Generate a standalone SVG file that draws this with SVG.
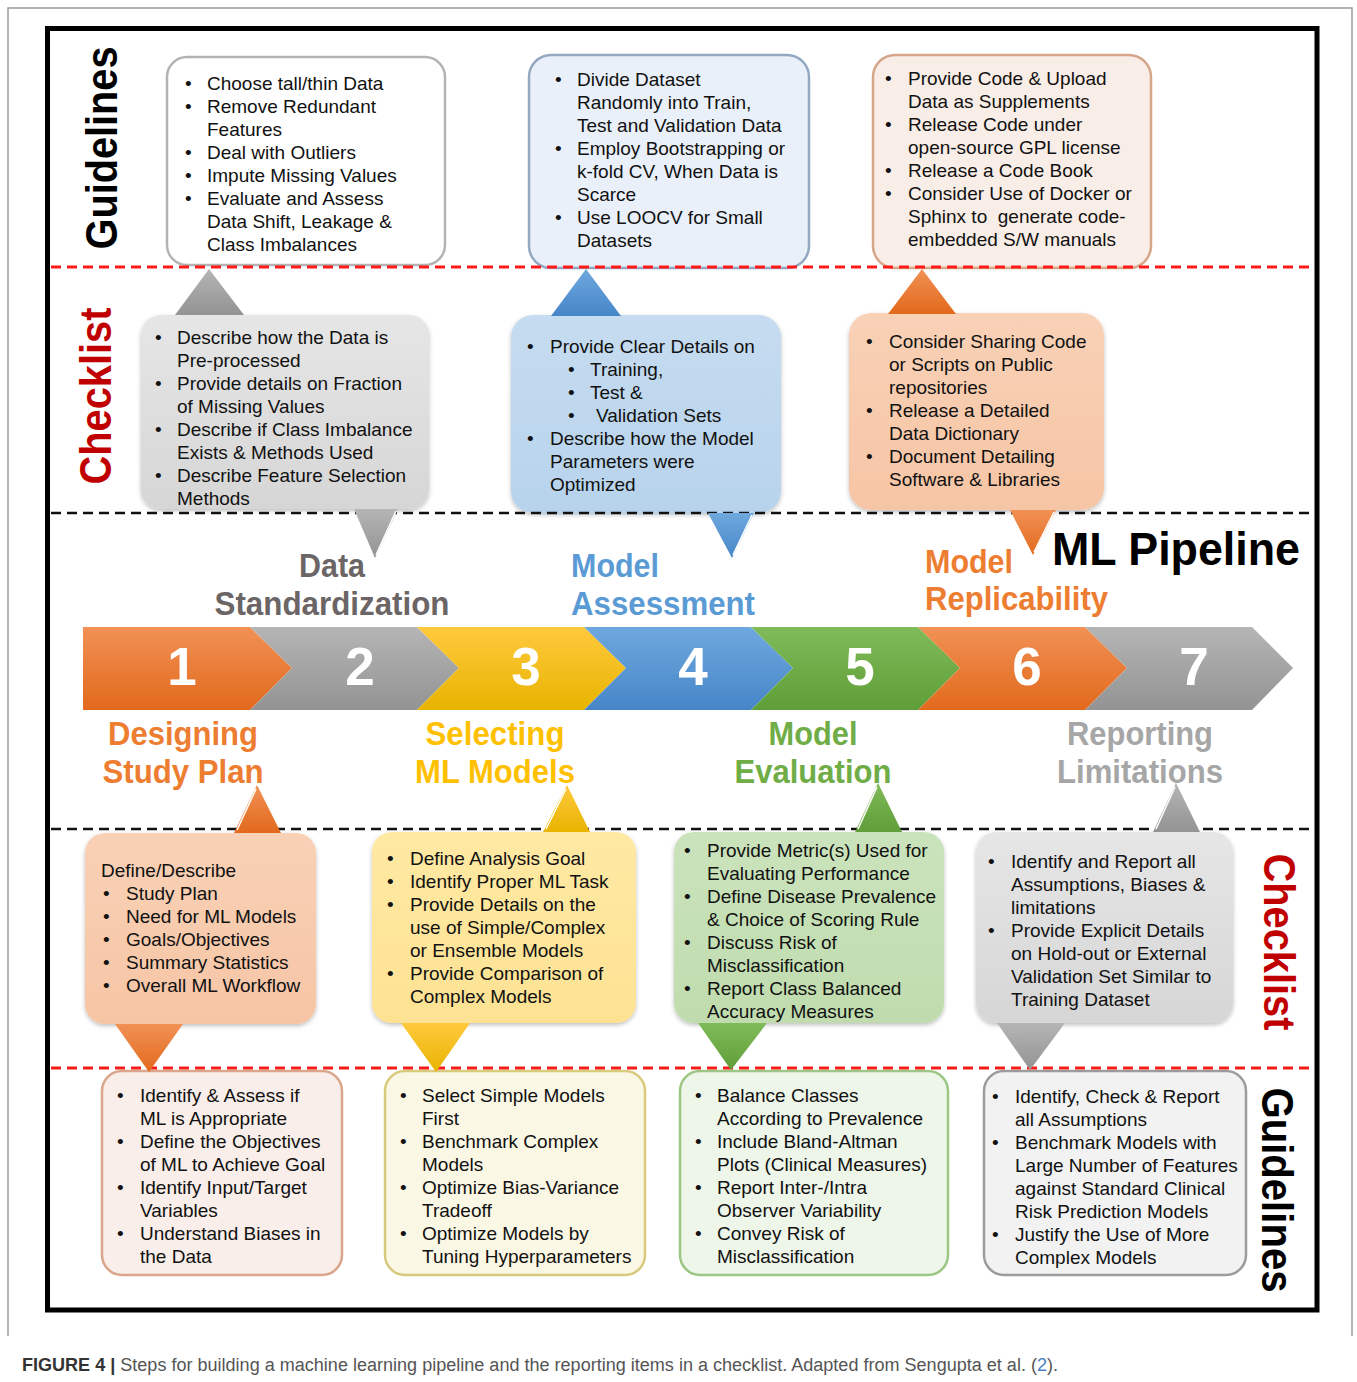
<svg xmlns="http://www.w3.org/2000/svg" width="1357" height="1382" viewBox="0 0 1357 1382">
<style>
.tx{font-family:"Liberation Sans",Arial,Helvetica,sans-serif;font-size:19px;fill:#111}
.lb{font-family:"Liberation Sans",Arial,Helvetica,sans-serif;font-weight:bold;font-size:33px}
.side{font-family:"Liberation Sans",Arial,Helvetica,sans-serif;font-weight:bold;font-size:44px}
.num{font-family:"Liberation Sans",Arial,Helvetica,sans-serif;font-weight:bold;font-size:53px;fill:#fff;text-anchor:middle}
.red{stroke:#ff1a1a;stroke-width:3;stroke-dasharray:10 6;fill:none}
.blk{stroke:#111;stroke-width:2.5;stroke-dasharray:10 6;fill:none}
.gl{stroke-width:2.5}
</style>
<defs>
<linearGradient id="gOr" x1="0" y1="0" x2="0" y2="1"><stop offset="0" stop-color="#f19155"/><stop offset="1" stop-color="#e2691c"/></linearGradient>
<linearGradient id="gGy" x1="0" y1="0" x2="0" y2="1"><stop offset="0" stop-color="#b5b5b5"/><stop offset="1" stop-color="#939393"/></linearGradient>
<linearGradient id="gYe" x1="0" y1="0" x2="0" y2="1"><stop offset="0" stop-color="#ffc93d"/><stop offset="1" stop-color="#e8b400"/></linearGradient>
<linearGradient id="gBl" x1="0" y1="0" x2="0" y2="1"><stop offset="0" stop-color="#6fa8de"/><stop offset="1" stop-color="#4686c8"/></linearGradient>
<linearGradient id="gGr" x1="0" y1="0" x2="0" y2="1"><stop offset="0" stop-color="#80bb59"/><stop offset="1" stop-color="#5f9e38"/></linearGradient>
<linearGradient id="bGy" x1="0" y1="0" x2="0" y2="1"><stop offset="0" stop-color="#e6e6e6"/><stop offset="1" stop-color="#d6d6d6"/></linearGradient>
<linearGradient id="bBl" x1="0" y1="0" x2="0" y2="1"><stop offset="0" stop-color="#c6dcf0"/><stop offset="1" stop-color="#b7d3ec"/></linearGradient>
<linearGradient id="bOr" x1="0" y1="0" x2="0" y2="1"><stop offset="0" stop-color="#f9d1b6"/><stop offset="1" stop-color="#f6c5a5"/></linearGradient>
<linearGradient id="bYe" x1="0" y1="0" x2="0" y2="1"><stop offset="0" stop-color="#ffe9a3"/><stop offset="1" stop-color="#fde293"/></linearGradient>
<linearGradient id="bGr" x1="0" y1="0" x2="0" y2="1"><stop offset="0" stop-color="#cbe3bc"/><stop offset="1" stop-color="#c0dcae"/></linearGradient>
<filter id="sh" x="-10%" y="-10%" width="120%" height="125%"><feDropShadow dx="0" dy="2" stdDeviation="2" flood-color="#000" flood-opacity="0.25"/></filter>
</defs>
<rect width="1357" height="1382" fill="#fff"/>
<path d="M8,1336 V8 H1352 V1336" fill="none" stroke="#9a9a9a" stroke-width="1.5"/>
<rect x="47.5" y="28.5" width="1269.5" height="1281.5" fill="#fff" stroke="#000" stroke-width="5"/>

<g id="side-labels">
<text class="side" fill="#000" text-anchor="middle" textLength="203" lengthAdjust="spacingAndGlyphs" transform="translate(117,148) rotate(-90)">Guidelines</text>
<text class="side" fill="#c00000" text-anchor="middle" textLength="177" lengthAdjust="spacingAndGlyphs" transform="translate(111,396) rotate(-90)">Checklist</text>
<text class="side" fill="#c00000" text-anchor="middle" textLength="177" lengthAdjust="spacingAndGlyphs" transform="translate(1264,942) rotate(90)">Checklist</text>
<text class="side" fill="#000" text-anchor="middle" textLength="205" lengthAdjust="spacingAndGlyphs" transform="translate(1262,1190) rotate(90)">Guidelines</text>
</g>

<g id="guide-data">
<rect x="167" y="57" width="278" height="208" rx="20" fill="#fff" stroke="#b3b3b3" class="gl"/>
<text class="tx"><tspan x="185" y="90">•</tspan><tspan x="207" y="90">Choose tall/thin Data</tspan><tspan x="185" y="113">•</tspan><tspan x="207" y="113">Remove Redundant</tspan><tspan x="207" y="136">Features</tspan><tspan x="185" y="159">•</tspan><tspan x="207" y="159">Deal with Outliers</tspan><tspan x="185" y="182">•</tspan><tspan x="207" y="182">Impute Missing Values</tspan><tspan x="185" y="205">•</tspan><tspan x="207" y="205">Evaluate and Assess</tspan><tspan x="207" y="228">Data Shift, Leakage &amp;</tspan><tspan x="207" y="251">Class Imbalances</tspan></text>
</g>

<g id="guide-assess">
<rect x="529" y="55" width="280" height="213" rx="22" fill="#eaf0f9" stroke="#93a9c2" class="gl"/>
<text class="tx"><tspan x="555" y="86">•</tspan><tspan x="577" y="86">Divide Dataset</tspan><tspan x="577" y="109">Randomly into Train,</tspan><tspan x="577" y="132">Test and Validation Data</tspan><tspan x="555" y="155">•</tspan><tspan x="577" y="155">Employ Bootstrapping or</tspan><tspan x="577" y="178">k-fold CV, When Data is</tspan><tspan x="577" y="201">Scarce</tspan><tspan x="555" y="224">•</tspan><tspan x="577" y="224">Use LOOCV for Small</tspan><tspan x="577" y="247">Datasets</tspan></text>
</g>

<g id="guide-replic">
<rect x="873" y="55" width="278" height="213" rx="22" fill="#f9ede7" stroke="#d6a68a" class="gl"/>
<text class="tx"><tspan x="885" y="85">•</tspan><tspan x="908" y="85">Provide Code &amp; Upload</tspan><tspan x="908" y="108">Data as Supplements</tspan><tspan x="885" y="131">•</tspan><tspan x="908" y="131">Release Code under</tspan><tspan x="908" y="154">open-source GPL license</tspan><tspan x="885" y="177">•</tspan><tspan x="908" y="177">Release a Code Book</tspan><tspan x="885" y="200">•</tspan><tspan x="908" y="200">Consider Use of Docker or</tspan><tspan x="908" y="223">Sphinx to &#160;generate code-</tspan><tspan x="908" y="246">embedded S/W manuals</tspan></text>
</g>

<g id="check-data">
<rect x="141" y="315" width="288" height="194" rx="20" fill="url(#bGy)" filter="url(#sh)"/>
<text class="tx"><tspan x="155" y="344">•</tspan><tspan x="177" y="344">Describe how the Data is</tspan><tspan x="177" y="367">Pre-processed</tspan><tspan x="155" y="390">•</tspan><tspan x="177" y="390">Provide details on Fraction</tspan><tspan x="177" y="413">of Missing Values</tspan><tspan x="155" y="436">•</tspan><tspan x="177" y="436">Describe if Class Imbalance</tspan><tspan x="177" y="459">Exists &amp; Methods Used</tspan><tspan x="155" y="482">•</tspan><tspan x="177" y="482">Describe Feature Selection</tspan><tspan x="177" y="505">Methods</tspan></text>
</g>

<g id="check-assess">
<rect x="511" y="315" width="270" height="198" rx="22" fill="url(#bBl)" filter="url(#sh)"/>
<text class="tx"><tspan x="527" y="353">•</tspan><tspan x="550" y="353">Provide Clear Details on</tspan><tspan x="568" y="376">•</tspan><tspan x="590" y="376">Training,</tspan><tspan x="568" y="399">•</tspan><tspan x="590" y="399">Test &amp;</tspan><tspan x="568" y="422">•</tspan><tspan x="596" y="422">Validation Sets</tspan><tspan x="527" y="445">•</tspan><tspan x="550" y="445">Describe how the Model</tspan><tspan x="550" y="468">Parameters were</tspan><tspan x="550" y="491">Optimized</tspan></text>
</g>

<g id="check-replic">
<rect x="849" y="313" width="255" height="197" rx="22" fill="url(#bOr)" filter="url(#sh)"/>
<text class="tx"><tspan x="866" y="348">•</tspan><tspan x="889" y="348">Consider Sharing Code</tspan><tspan x="889" y="371">or Scripts on Public</tspan><tspan x="889" y="394">repositories</tspan><tspan x="866" y="417">•</tspan><tspan x="889" y="417">Release a Detailed</tspan><tspan x="889" y="440">Data Dictionary</tspan><tspan x="866" y="463">•</tspan><tspan x="889" y="463">Document Detailing</tspan><tspan x="889" y="486">Software &amp; Libraries</tspan></text>
</g>

<g id="pipeline">
<g id="step1"><path d="M83,627 H250 L292,668 L250,710 H83 Z" fill="url(#gOr)"/><text class="num" x="182" y="685">1</text></g>
<g id="step2"><path d="M250,627 H417 L459,668 L417,710 H250 L292,668 Z" fill="url(#gGy)"/><text class="num" x="360" y="685">2</text></g>
<g id="step3"><path d="M417,627 H584 L626,668 L584,710 H417 L459,668 Z" fill="url(#gYe)"/><text class="num" x="526" y="685">3</text></g>
<g id="step4"><path d="M584,627 H751 L793,668 L751,710 H584 L626,668 Z" fill="url(#gBl)"/><text class="num" x="693" y="685">4</text></g>
<g id="step5"><path d="M751,627 H918 L960,668 L918,710 H751 L793,668 Z" fill="url(#gGr)"/><text class="num" x="860" y="685">5</text></g>
<g id="step6"><path d="M918,627 H1085 L1127,668 L1085,710 H918 L960,668 Z" fill="url(#gOr)"/><text class="num" x="1027" y="685">6</text></g>
<g id="step7"><path d="M1085,627 H1252 L1293,668 L1252,710 H1085 L1127,668 Z" fill="url(#gGy)"/><text class="num" x="1194" y="685">7</text></g>
</g>

<g id="stage-labels">
<text class="lb" fill="#6b6565" text-anchor="middle"><tspan x="332" y="577" textLength="66" lengthAdjust="spacingAndGlyphs">Data</tspan></text>
<text class="lb" fill="#6b6565" text-anchor="middle"><tspan x="332" y="615" textLength="235" lengthAdjust="spacingAndGlyphs">Standardization</tspan></text>
<text class="lb" fill="#5b9bd5"><tspan x="571" y="577" textLength="88" lengthAdjust="spacingAndGlyphs">Model</tspan></text>
<text class="lb" fill="#5b9bd5"><tspan x="571" y="615" textLength="184" lengthAdjust="spacingAndGlyphs">Assessment</tspan></text>
<text class="lb" fill="#ed7d31"><tspan x="925" y="573" textLength="88" lengthAdjust="spacingAndGlyphs">Model</tspan></text>
<text class="lb" fill="#ed7d31"><tspan x="925" y="610" textLength="183" lengthAdjust="spacingAndGlyphs">Replicability</tspan></text>
<text class="lb" fill="#000" style="font-size:47px"><tspan x="1052" y="565" textLength="248" lengthAdjust="spacingAndGlyphs">ML Pipeline</tspan></text>
<text class="lb" fill="#ed7d31" text-anchor="middle"><tspan x="183" y="745" textLength="150" lengthAdjust="spacingAndGlyphs">Designing</tspan></text>
<text class="lb" fill="#ed7d31" text-anchor="middle"><tspan x="183" y="783" textLength="161" lengthAdjust="spacingAndGlyphs">Study Plan</tspan></text>
<text class="lb" fill="#ffc000" text-anchor="middle"><tspan x="495" y="745" textLength="139" lengthAdjust="spacingAndGlyphs">Selecting</tspan></text>
<text class="lb" fill="#ffc000" text-anchor="middle"><tspan x="495" y="783" textLength="160" lengthAdjust="spacingAndGlyphs">ML Models</tspan></text>
<text class="lb" fill="#70ad47" text-anchor="middle"><tspan x="813" y="745" textLength="89" lengthAdjust="spacingAndGlyphs">Model</tspan></text>
<text class="lb" fill="#70ad47" text-anchor="middle"><tspan x="813" y="783" textLength="157" lengthAdjust="spacingAndGlyphs">Evaluation</tspan></text>
<text class="lb" fill="#a6a6a6" text-anchor="middle"><tspan x="1140" y="745" textLength="146" lengthAdjust="spacingAndGlyphs">Reporting</tspan></text>
<text class="lb" fill="#a6a6a6" text-anchor="middle"><tspan x="1140" y="783" textLength="166" lengthAdjust="spacingAndGlyphs">Limitations</tspan></text>
</g>

<g id="check-design">
<rect x="85" y="833" width="231" height="191" rx="20" fill="url(#bOr)" filter="url(#sh)"/>
<text class="tx"><tspan x="101" y="877">Define/Describe</tspan><tspan x="103" y="900">•</tspan><tspan x="126" y="900">Study Plan</tspan><tspan x="103" y="923">•</tspan><tspan x="126" y="923">Need for ML Models</tspan><tspan x="103" y="946">•</tspan><tspan x="126" y="946">Goals/Objectives</tspan><tspan x="103" y="969">•</tspan><tspan x="126" y="969">Summary Statistics</tspan><tspan x="103" y="992">•</tspan><tspan x="126" y="992">Overall ML Workflow</tspan></text>
</g>

<g id="check-select">
<rect x="372" y="832" width="264" height="191" rx="20" fill="url(#bYe)" filter="url(#sh)"/>
<text class="tx"><tspan x="387" y="865">•</tspan><tspan x="410" y="865">Define Analysis Goal</tspan><tspan x="387" y="888">•</tspan><tspan x="410" y="888">Identify Proper ML Task</tspan><tspan x="387" y="911">•</tspan><tspan x="410" y="911">Provide Details on the</tspan><tspan x="410" y="934">use of Simple/Complex</tspan><tspan x="410" y="957">or Ensemble Models</tspan><tspan x="387" y="980">•</tspan><tspan x="410" y="980">Provide Comparison of</tspan><tspan x="410" y="1003">Complex Models</tspan></text>
</g>

<g id="check-eval">
<rect x="674" y="832" width="270" height="191" rx="20" fill="url(#bGr)" filter="url(#sh)"/>
<text class="tx"><tspan x="684" y="857">•</tspan><tspan x="707" y="857">Provide Metric(s) Used for</tspan><tspan x="707" y="880">Evaluating Performance</tspan><tspan x="684" y="903">•</tspan><tspan x="707" y="903">Define Disease Prevalence</tspan><tspan x="707" y="926">&amp; Choice of Scoring Rule</tspan><tspan x="684" y="949">•</tspan><tspan x="707" y="949">Discuss Risk of</tspan><tspan x="707" y="972">Misclassification</tspan><tspan x="684" y="995">•</tspan><tspan x="707" y="995">Report Class Balanced</tspan><tspan x="707" y="1018">Accuracy Measures</tspan></text>
</g>

<g id="check-report">
<rect x="976" y="832" width="257" height="191" rx="20" fill="url(#bGy)" filter="url(#sh)"/>
<text class="tx"><tspan x="988" y="868">•</tspan><tspan x="1011" y="868">Identify and Report all</tspan><tspan x="1011" y="891">Assumptions, Biases &amp;</tspan><tspan x="1011" y="914">limitations</tspan><tspan x="988" y="937">•</tspan><tspan x="1011" y="937">Provide Explicit Details</tspan><tspan x="1011" y="960">on Hold-out or External</tspan><tspan x="1011" y="983">Validation Set Similar to</tspan><tspan x="1011" y="1006">Training Dataset</tspan></text>
</g>

<g id="guide-design">
<rect x="102" y="1071" width="240" height="204" rx="20" fill="#f9eee9" stroke="#d9a68b" class="gl"/>
<text class="tx"><tspan x="117" y="1102">•</tspan><tspan x="140" y="1102">Identify &amp; Assess if</tspan><tspan x="140" y="1125">ML is Appropriate</tspan><tspan x="117" y="1148">•</tspan><tspan x="140" y="1148">Define the Objectives</tspan><tspan x="140" y="1171">of ML to Achieve Goal</tspan><tspan x="117" y="1194">•</tspan><tspan x="140" y="1194">Identify Input/Target</tspan><tspan x="140" y="1217">Variables</tspan><tspan x="117" y="1240">•</tspan><tspan x="140" y="1240">Understand Biases in</tspan><tspan x="140" y="1263">the Data</tspan></text>
</g>

<g id="guide-select">
<rect x="385" y="1071" width="260" height="204" rx="20" fill="#fbf7e5" stroke="#d9c97c" class="gl"/>
<text class="tx"><tspan x="400" y="1102">•</tspan><tspan x="422" y="1102">Select Simple Models</tspan><tspan x="422" y="1125">First</tspan><tspan x="400" y="1148">•</tspan><tspan x="422" y="1148">Benchmark Complex</tspan><tspan x="422" y="1171">Models</tspan><tspan x="400" y="1194">•</tspan><tspan x="422" y="1194">Optimize Bias-Variance</tspan><tspan x="422" y="1217">Tradeoff</tspan><tspan x="400" y="1240">•</tspan><tspan x="422" y="1240">Optimize Models by</tspan><tspan x="422" y="1263">Tuning Hyperparameters</tspan></text>
</g>

<g id="guide-eval">
<rect x="680" y="1071" width="268" height="204" rx="20" fill="#eef5e9" stroke="#9cc684" class="gl"/>
<text class="tx"><tspan x="695" y="1102">•</tspan><tspan x="717" y="1102">Balance Classes</tspan><tspan x="717" y="1125">According to Prevalence</tspan><tspan x="695" y="1148">•</tspan><tspan x="717" y="1148">Include Bland-Altman</tspan><tspan x="717" y="1171">Plots (Clinical Measures)</tspan><tspan x="695" y="1194">•</tspan><tspan x="717" y="1194">Report Inter-/Intra</tspan><tspan x="717" y="1217">Observer Variability</tspan><tspan x="695" y="1240">•</tspan><tspan x="717" y="1240">Convey Risk of</tspan><tspan x="717" y="1263">Misclassification</tspan></text>
</g>

<g id="guide-report">
<rect x="984" y="1071" width="262" height="204" rx="20" fill="#f2f2f2" stroke="#9c9c9c" class="gl"/>
<text class="tx"><tspan x="992" y="1103">•</tspan><tspan x="1015" y="1103">Identify, Check &amp; Report</tspan><tspan x="1015" y="1126">all Assumptions</tspan><tspan x="992" y="1149">•</tspan><tspan x="1015" y="1149">Benchmark Models with</tspan><tspan x="1015" y="1172">Large Number of Features</tspan><tspan x="1015" y="1195">against Standard Clinical</tspan><tspan x="1015" y="1218">Risk Prediction Models</tspan><tspan x="992" y="1241">•</tspan><tspan x="1015" y="1241">Justify the Use of More</tspan><tspan x="1015" y="1264">Complex Models</tspan></text>
</g>

<g id="dividers">
<line class="red" x1="51" y1="267" x2="1314" y2="267"/>
<line class="blk" x1="51" y1="513" x2="1314" y2="513"/>
<line class="blk" x1="51" y1="829" x2="1314" y2="829"/>
<line class="red" x1="51" y1="1068" x2="1314" y2="1068"/>
</g>

<g id="connectors">
<path d="M209,269 L244,315 L175,315 Z" fill="url(#gGy)"/>
<path d="M586,269 L621,316 L551,316 Z" fill="url(#gBl)"/>
<path d="M922,269 L956,314 L888,314 Z" fill="url(#gOr)"/>
<path d="M354,509 L398,509 L375,558 Z" fill="url(#gGy)"/><path d="M396,511 L376,555" stroke="#fff" stroke-width="1.5"/>
<path d="M708,513 L754,513 L732,558 Z" fill="url(#gBl)"/><path d="M752,515 L733,555" stroke="#fff" stroke-width="1.5"/>
<path d="M1010,510 L1056,510 L1033,555 Z" fill="url(#gOr)"/><path d="M1054,512 L1034,552" stroke="#fff" stroke-width="1.5"/>
<path d="M257,785 L281,833 L234,833 Z" fill="url(#gOr)"/><path d="M256,789 L237,830" stroke="#fff" stroke-width="1.5"/>
<path d="M567,785 L590,832 L543,832 Z" fill="url(#gYe)"/><path d="M566,789 L546,829" stroke="#fff" stroke-width="1.5"/>
<path d="M878,783 L902,832 L855,832 Z" fill="url(#gGr)"/><path d="M877,787 L858,829" stroke="#fff" stroke-width="1.5"/>
<path d="M1176,783 L1200,832 L1153,832 Z" fill="url(#gGy)"/><path d="M1175,787 L1156,829" stroke="#fff" stroke-width="1.5"/>
<path d="M115,1024 L183,1024 L149,1072 Z" fill="url(#gOr)"/>
<path d="M401,1023 L470,1023 L436,1072 Z" fill="url(#gYe)"/>
<path d="M698,1023 L767,1023 L731,1070 Z" fill="url(#gGr)"/>
<path d="M997,1023 L1065,1023 L1030,1070 Z" fill="url(#gGy)"/>
</g>

<g id="caption">
<text x="22" y="1371" style="font-family:'Liberation Sans',Arial,sans-serif;font-size:18px" fill="#555" textLength="1036" lengthAdjust="spacingAndGlyphs"><tspan font-weight="bold" fill="#333">FIGURE 4 | </tspan>Steps for building a machine learning pipeline and the reporting items in a checklist. Adapted from Sengupta et al. (<tspan fill="#4a7fc0">2</tspan>).</text>
</g>
</svg>
